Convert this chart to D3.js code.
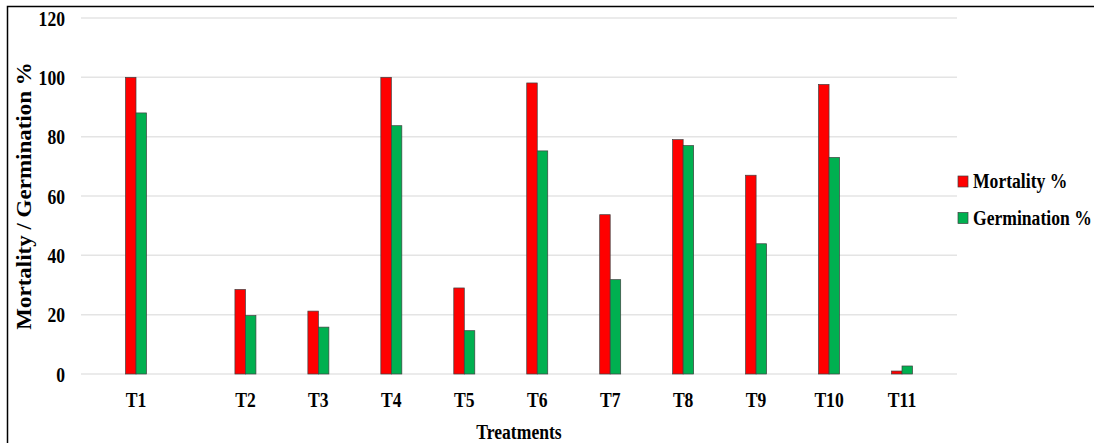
<!DOCTYPE html>
<html>
<head>
<meta charset="utf-8">
<script src="https://cdn.jsdelivr.net/npm/d3@7"></script>
<style>
  html, body { margin: 0; padding: 0; background: #fff; }
  svg { display: block; }
</style>
</head>
<body>
<svg id="chart" width="1094" height="443"></svg>
<script>
// Treatments and measured percentages
const categories = ["T1", "T2", "T3", "T4", "T5", "T6", "T7", "T8", "T9", "T10", "T11"];
const mortality = [100, 28.5, 21.2, 100, 29, 98.1, 53.7, 79, 67, 97.6, 1];
const germination = [88, 19.7, 15.8, 83.7, 14.6, 75.2, 31.8, 77, 43.9, 73, 2.7];
const yTicks = [0, 20, 40, 60, 80, 100, 120];
const seriesNames = ["Mortality %", "Germination %"];
const seriesColors = ["#FF0000", "#00B050"];

const FONT = "Liberation Serif";
const SQUEEZE = 0.88; // narrow, condensed lettering

const svg = d3.select("#chart");

function label(sel) {
  return sel.attr("font-family", FONT).attr("font-weight", "bold").attr("fill", "#000");
}

// Horizontal text placed at (x, y) with condensed glyphs
function hText(parent, x, yPos, str, size, anchor) {
  return parent.append("g")
    .attr("transform", `translate(${x},${yPos}) scale(${SQUEEZE},1)`)
    .append("text")
    .call(label)
    .attr("font-size", size)
    .attr("text-anchor", anchor || "start")
    .text(str);
}

// Outer frame
svg.append("rect")
  .attr("x", 7.5).attr("y", 6.5)
  .attr("width", 1100).attr("height", 450)
  .attr("fill", "none").attr("stroke", "#000").attr("stroke-width", 1.5);

const plot = { left: 81, right: 957, top: 18, bottom: 374 };

const y = d3.scaleLinear().domain([0, 120]).range([plot.bottom, plot.top]);

// T1 sits a little apart from the rest of the treatments
const slot = i => (i === 0 ? 0 : i + 0.5);
const x = d3.scaleLinear().domain([0, slot(categories.length - 1)]).range([136, 902]);
const barW = 10.5;

// Gridlines
svg.append("g")
  .selectAll("line")
  .data(yTicks)
  .join("line")
  .attr("x1", plot.left).attr("x2", plot.right)
  .attr("y1", d => y(d)).attr("y2", d => y(d))
  .attr("stroke", "#e4e4e4").attr("stroke-width", 1.5);

// Y axis labels
const yAxis = d3.axisLeft(y).tickValues(yTicks).tickSize(0).tickPadding(0);
const yg = svg.append("g").attr("transform", "translate(65,0)").call(yAxis);
yg.attr("font-family", FONT).attr("font-size", 20);
yg.select(".domain").remove();
yg.selectAll("text")
  .call(label)
  .attr("text-anchor", "end")
  .attr("dy", "0.35em")
  .attr("transform", `scale(${SQUEEZE},1)`);

// X axis labels
const xg = svg.append("g");
categories.forEach((c, i) => hText(xg, x(slot(i)), 407, c, 20, "middle"));

// Bars
const series = [mortality, germination];
series.forEach((vals, s) => {
  svg.append("g")
    .selectAll("rect")
    .data(vals)
    .join("rect")
    .attr("x", (d, i) => x(slot(i)) + (s === 0 ? -barW : 0))
    .attr("width", barW)
    .attr("y", d => y(d))
    .attr("height", d => y(0) - y(d))
    .attr("fill", seriesColors[s])
    .attr("stroke", "#404040")
    .attr("stroke-width", 0.7);
});

// Axis titles
hText(svg, 519, 439, "Treatments", 20, "middle");

svg.append("g")
  .attr("transform", `translate(31,196) scale(${SQUEEZE},1) rotate(-90)`)
  .append("text")
  .call(label)
  .attr("text-anchor", "middle")
  .attr("font-size", 23)
  .text("Mortality / Germination %");

// Legend
const legend = svg.append("g");
seriesNames.forEach((name, i) => {
  const base = 188 + i * 36.5;
  legend.append("rect")
    .attr("x", 958).attr("y", base - 12)
    .attr("width", 10).attr("height", 11)
    .attr("fill", seriesColors[i])
    .attr("stroke", "#404040").attr("stroke-width", 0.7);
  hText(legend, 973, base, name, 20, "start");
});
</script>
</body>
</html>
